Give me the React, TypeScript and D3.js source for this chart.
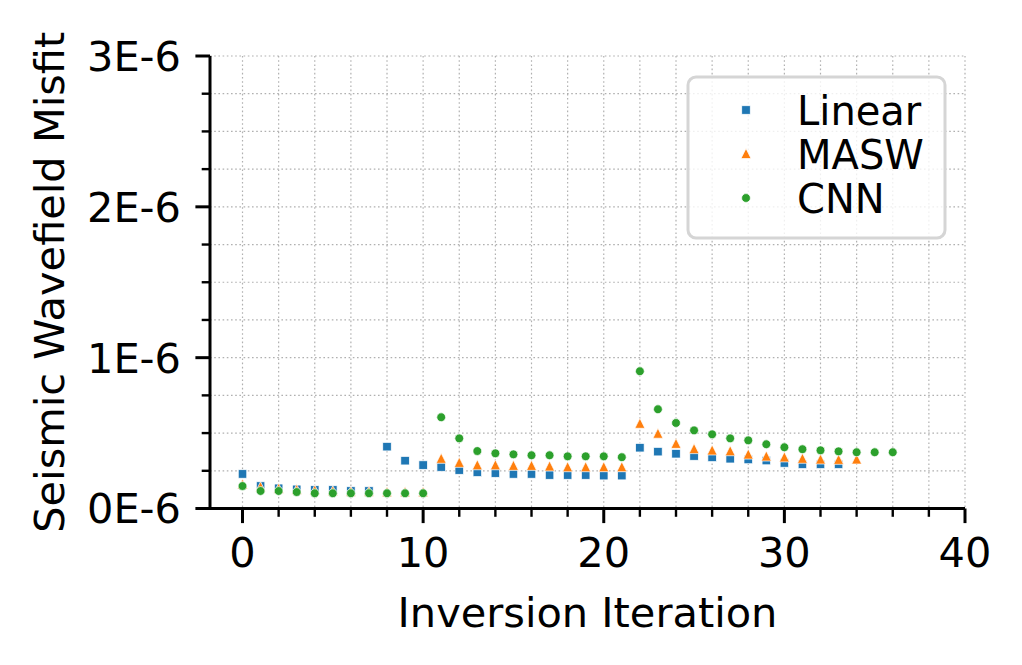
import React, { useEffect, useRef } from "react";
import * as d3 from "d3";

// misfit values, in units of 1E-6
const linear = [
    0.229, 0.149, 0.134, 0.127, 0.123, 0.123, 0.116, 0.116, 0.41, 0.317, 0.288,
    0.275, 0.255, 0.24, 0.235, 0.229, 0.229, 0.222, 0.222, 0.222, 0.218, 0.218,
    0.403, 0.377, 0.363, 0.348, 0.339, 0.33, 0.325, 0.318, 0.302, 0.293, 0.293,
    0.293,
];
const masw = [
    0.162, 0.145, 0.134, 0.127, 0.123, 0.118, 0.114, 0.114, 0.111, 0.111, 0.111,
    0.333, 0.306, 0.29, 0.29, 0.286, 0.286, 0.282, 0.277, 0.277, 0.277, 0.277,
    0.565, 0.499, 0.432, 0.397, 0.388, 0.383, 0.361, 0.348, 0.342, 0.333, 0.328,
    0.326, 0.328,
];
const cnn = [
    0.149, 0.116, 0.116, 0.109, 0.101, 0.101, 0.101, 0.101, 0.101, 0.101, 0.101,
    0.605, 0.465, 0.381, 0.366, 0.359, 0.353, 0.353, 0.346, 0.346, 0.346, 0.34,
    0.91, 0.658, 0.567, 0.518, 0.492, 0.465, 0.452, 0.426, 0.406, 0.393, 0.386,
    0.379, 0.373, 0.373, 0.373,
];

const seriesNames = ["Linear", "MASW", "CNN"];
const xTicks = [0, 10, 20, 30, 40];
const yTicks = [0, 1, 2, 3];
const yTickLabels = ["0E-6", "1E-6", "2E-6", "3E-6"];

const colors = ["#1f77b4", "#ff7f0e", "#2ca02c"];
const font = "DejaVu Sans, sans-serif";

const App = () => {
    const svgRef = useRef<SVGSVGElement>(null);

    useEffect(() => {
        document.body.style.margin = "0";
        const svg = d3.select(svgRef.current);
        svg.selectAll("*").remove();

        const left = 210;
        const right = 965;
        const top = 56;
        const bottom = 508.5;

        const x = d3.scaleLinear().domain([-1.8, 40]).range([left, right]);
        const y = d3.scaleLinear().domain([0, 3]).range([bottom, top]);

        const xMinor = d3.range(0, 41, 2);
        const yMinor = d3.range(0, 3.01, 0.25);

        // grid (major + minor), dotted
        const grid = svg.append("g").attr("stroke", "#b0b0b0").attr("stroke-width", 1.2).attr("stroke-dasharray", "1.6,2.6");
        xMinor.forEach((v) => {
            grid.append("line").attr("x1", x(v)).attr("x2", x(v)).attr("y1", top).attr("y2", bottom);
        });
        yMinor.forEach((v) => {
            grid.append("line").attr("x1", left).attr("x2", right).attr("y1", y(v)).attr("y2", y(v));
        });

        // markers
        const plot = svg.append("g");
        const sq = 8.5;
        const ts = 10;
        const cr = 4.4;
        plot.append("g")
            .selectAll("rect")
            .data(linear)
            .enter()
            .append("rect")
            .attr("x", (d, i) => x(i) - sq / 2)
            .attr("y", (d) => y(d) - sq / 2)
            .attr("width", sq)
            .attr("height", sq)
            .attr("fill", colors[0])
            .attr("stroke", "#fff")
            .attr("stroke-width", 0.7);

        const tri = (cx: number, cy: number, s: number) =>
            `M${cx},${cy - s / 2}L${cx + s / 2},${cy + s / 2}L${cx - s / 2},${cy + s / 2}Z`;
        plot.append("g")
            .selectAll("path")
            .data(masw)
            .enter()
            .append("path")
            .attr("d", (d, i) => tri(x(i), y(d), ts))
            .attr("fill", colors[1])
            .attr("stroke", "#fff")
            .attr("stroke-width", 0.7);

        plot.append("g")
            .selectAll("circle")
            .data(cnn)
            .enter()
            .append("circle")
            .attr("cx", (d, i) => x(i))
            .attr("cy", (d) => y(d))
            .attr("r", cr)
            .attr("fill", colors[2])
            .attr("stroke", "#fff")
            .attr("stroke-width", 0.7);

        // spines
        svg.append("line").attr("x1", left).attr("x2", left).attr("y1", top).attr("y2", bottom + 1.5)
            .attr("stroke", "#000").attr("stroke-width", 3);
        svg.append("line").attr("x1", left - 1.5).attr("x2", right).attr("y1", bottom).attr("y2", bottom)
            .attr("stroke", "#000").attr("stroke-width", 3);

        // ticks
        const ticks = svg.append("g").attr("stroke", "#000").attr("stroke-width", 3);
        xMinor.forEach((v) => {
            const major = xTicks.includes(v);
            ticks.append("line").attr("x1", x(v)).attr("x2", x(v)).attr("y1", bottom)
                .attr("y2", bottom + (major ? 14.6 : 8.3)).attr("stroke-width", major ? 3 : 2.4);
        });
        yMinor.forEach((v) => {
            const major = Number.isInteger(v);
            ticks.append("line").attr("y1", y(v)).attr("y2", y(v)).attr("x1", left)
                .attr("x2", left - (major ? 14.6 : 8.3)).attr("stroke-width", major ? 3 : 2.4);
        });

        const labels = svg.append("g").attr("font-family", font).attr("font-size", 41.5).attr("fill", "#000");
        xTicks.forEach((v) => {
            labels.append("text").attr("x", x(v)).attr("y", 567).attr("text-anchor", "middle").text(v);
        });
        yTicks.forEach((v, i) => {
            labels.append("text").attr("x", 181).attr("y", y(v)).attr("dy", "0.36em")
                .attr("text-anchor", "end").text(yTickLabels[i]);
        });
        labels.append("text").attr("x", (left + right) / 2).attr("y", 627)
            .attr("text-anchor", "middle").text("Inversion Iteration");
        labels.append("text").attr("transform", `translate(64,${(top + bottom) / 2}) rotate(-90)`)
            .attr("text-anchor", "middle").text("Seismic Wavefield Misfit");

        // legend
        const lg = svg.append("g");
        lg.append("rect").attr("x", 688).attr("y", 77).attr("width", 257).attr("height", 161)
            .attr("rx", 8).attr("fill", "rgba(255,255,255,0.8)").attr("stroke", "#d5d5d5").attr("stroke-width", 3);
        const rowY = [110, 153.5, 198];
        seriesNames.forEach((name, i) => {
            const cy = rowY[i];
            if (i === 0) {
                lg.append("rect").attr("x", 746 - sq / 2).attr("y", cy - sq / 2).attr("width", sq).attr("height", sq)
                    .attr("fill", colors[0]).attr("stroke", "#fff").attr("stroke-width", 0.7);
            } else if (i === 1) {
                lg.append("path").attr("d", tri(746, cy, ts)).attr("fill", colors[1]).attr("stroke", "#fff").attr("stroke-width", 0.7);
            } else {
                lg.append("circle").attr("cx", 746).attr("cy", cy).attr("r", cr).attr("fill", colors[2])
                    .attr("stroke", "#fff").attr("stroke-width", 0.7);
            }
            lg.append("text").attr("x", 797).attr("y", cy + 15).attr("font-family", font).attr("font-size", 40)
                .text(name);
        });
    }, []);

    return <svg ref={svgRef} width={1022} height={665} style={{ display: "block" }}></svg>;
};

export default App;
